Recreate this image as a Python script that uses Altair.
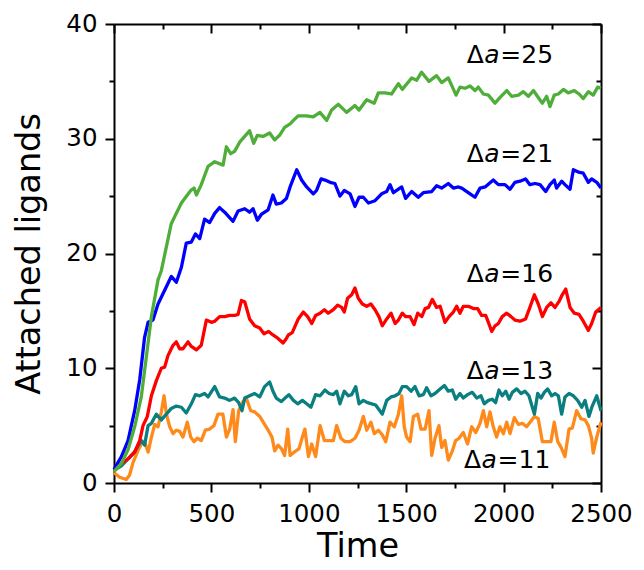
import altair as alt
import pandas as pd

# ---------------- data ----------------
t_25 = [0, 38, 72, 106, 140, 166, 192, 226, 243, 269, 294, 320, 346, 363, 394, 411, 423, 448, 483, 517,
        560, 577, 599, 619, 645, 671, 696, 717, 736, 765, 799, 825, 850, 876, 904, 921, 946, 989, 1023, 1057,
        1092, 1117, 1152, 1194, 1237, 1258, 1297, 1336, 1357, 1391, 1425, 1460, 1480, 1528, 1554, 1579, 1617, 1656, 1682, 1716,
        1756, 1776, 1802, 1828, 1853, 1870, 1896, 1922, 1956, 1982, 2016, 2041, 2076, 2101, 2127, 2153, 2178, 2199, 2221, 2238,
        2260, 2281, 2307, 2332, 2363, 2387, 2409, 2435, 2460, 2483, 2500]
v_25 = [1.0, 1.7, 2.9, 4.9, 7.5, 11.0, 14.5, 17.7, 18.5, 20.6, 22.6, 23.5, 24.4, 24.8, 25.5, 25.7, 25.1, 26.0, 27.6, 28.0,
        27.7, 29.3, 28.7, 28.9, 29.7, 30.2, 30.7, 29.6, 30.3, 30.2, 30.5, 29.9, 30.3, 31.0, 31.3, 31.6, 32.0, 32.0, 31.9, 32.3,
        31.6, 32.5, 33.0, 32.3, 32.9, 32.5, 33.4, 33.1, 34.0, 34.0, 33.9, 34.8, 34.3, 35.3, 35.1, 35.8, 35.0, 35.5, 34.9, 35.3,
        33.8, 34.5, 34.4, 34.6, 34.2, 34.5, 33.9, 33.8, 33.1, 33.6, 34.2, 33.7, 33.8, 34.1, 33.7, 34.2, 33.6, 33.1, 33.7, 32.8,
        33.8, 33.9, 34.3, 34.0, 34.2, 33.9, 33.5, 34.1, 33.8, 34.5, 34.4]

t_21 = [0, 38, 72, 106, 132, 157, 175, 200, 226, 260, 294, 320, 346, 371, 397, 418, 440, 465, 491, 517,
        542, 568, 611, 637, 671, 696, 714, 736, 756, 791, 816, 833, 859, 885, 904, 938, 963, 989, 1023, 1040,
        1063, 1083, 1109, 1134, 1160, 1182, 1212, 1237, 1258, 1280, 1306, 1340, 1374, 1400, 1417, 1434, 1477, 1497, 1528, 1562,
        1588, 1631, 1656, 1682, 1716, 1742, 1768, 1785, 1828, 1853, 1879, 1905, 1947, 1973, 2007, 2033, 2058, 2084, 2113, 2135,
        2161, 2187, 2216, 2238, 2260, 2272, 2298, 2315, 2341, 2358, 2384, 2409, 2435, 2452, 2478, 2500]
v_21 = [1.2, 2.3, 3.7, 6.3, 9.0, 12.7, 14.0, 14.2, 15.6, 16.8, 18.0, 17.5, 18.8, 20.9, 21.0, 21.7, 21.3, 23.0, 22.7, 23.5,
        24.0, 23.6, 22.8, 23.7, 23.9, 23.6, 23.9, 22.9, 23.4, 23.8, 25.1, 24.3, 24.4, 24.8, 25.8, 27.3, 26.4, 25.8, 25.2, 25.5,
        26.5, 26.4, 26.2, 26.1, 25.0, 25.5, 25.2, 24.1, 24.9, 24.9, 24.4, 24.6, 25.2, 25.4, 26.0, 25.3, 25.8, 24.8, 25.4, 24.9,
        25.3, 25.4, 25.9, 25.7, 26.1, 25.7, 25.8, 25.7, 25.2, 24.9, 25.7, 25.8, 26.4, 26.0, 26.0, 25.6, 26.2, 26.3, 26.5, 26.0,
        26.1, 26.0, 25.4, 26.0, 26.4, 25.7, 26.3, 26.0, 25.6, 27.3, 27.1, 27.0, 26.2, 26.5, 26.2, 25.7]

t_16 = [0, 38, 72, 106, 132, 149, 171, 192, 217, 243, 260, 277, 303, 320, 337, 354, 380, 397, 423, 448,
        474, 500, 517, 542, 568, 594, 619, 637, 654, 671, 696, 722, 748, 770, 794, 816, 842, 868, 885, 895,
        915, 946, 972, 994, 1015, 1035, 1058, 1080, 1100, 1126, 1148, 1169, 1182, 1199, 1220, 1237, 1254, 1275, 1297, 1319,
        1340, 1360, 1377, 1400, 1422, 1443, 1460, 1480, 1497, 1520, 1540, 1559, 1580, 1597, 1614, 1634, 1656, 1674, 1699, 1720,
        1742, 1759, 1776, 1793, 1819, 1845, 1867, 1887, 1908, 1922, 1939, 1956, 1973, 1993, 2016, 2038, 2058, 2084, 2113, 2135,
        2158, 2178, 2199, 2221, 2243, 2264, 2284, 2301, 2319, 2341, 2363, 2387, 2409, 2435, 2452, 2473, 2500]
v_16 = [1.1, 1.7, 2.1, 2.7, 3.7, 5.0, 5.8, 7.6, 8.9, 10.0, 10.1, 11.1, 12.0, 12.3, 11.7, 11.7, 12.3, 11.9, 11.6, 12.0,
        14.2, 14.0, 14.1, 14.5, 14.5, 14.6, 14.6, 14.7, 15.9, 15.8, 14.3, 13.7, 13.5, 13.0, 13.2, 12.9, 12.6, 12.2, 12.6, 12.9,
        13.1, 14.3, 14.9, 14.5, 13.9, 14.6, 14.8, 15.1, 14.8, 15.1, 15.5, 15.3, 14.9, 16.1, 16.4, 17.0, 16.1, 15.6, 15.4, 15.6,
        15.1, 14.5, 13.7, 14.3, 14.8, 13.9, 14.2, 14.8, 14.5, 14.5, 13.8, 14.8, 14.5, 15.2, 15.3, 16.0, 15.3, 15.4, 14.0, 14.5,
        14.9, 15.4, 14.8, 15.4, 15.4, 15.2, 15.2, 14.6, 14.6, 14.0, 13.2, 13.7, 13.9, 14.5, 14.8, 14.5, 14.2, 14.1, 14.3, 15.3,
        16.4, 15.6, 14.5, 15.3, 15.7, 15.3, 15.8, 16.4, 16.9, 15.3, 14.8, 14.7, 14.1, 13.3, 13.9, 14.9, 15.3]

t_13 = [0, 38, 72, 106, 140, 157, 175, 192, 217, 243, 269, 294, 320, 346, 371, 397, 418, 440, 465, 483,
        517, 542, 568, 594, 619, 640, 657, 671, 696, 722, 748, 773, 799, 816, 833, 859, 878, 898, 921, 943,
        967, 989, 1011, 1035, 1058, 1083, 1104, 1126, 1143, 1160, 1182, 1203, 1220, 1241, 1258, 1280, 1302, 1323, 1343, 1360,
        1377, 1400, 1422, 1443, 1463, 1480, 1502, 1525, 1545, 1566, 1588, 1605, 1627, 1648, 1668, 1696, 1716, 1737, 1754, 1776,
        1793, 1815, 1839, 1862, 1884, 1901, 1922, 1942, 1959, 1976, 1993, 2011, 2028, 2045, 2067, 2089, 2110, 2130, 2158, 2175,
        2192, 2209, 2226, 2247, 2264, 2281, 2298, 2315, 2336, 2358, 2380, 2401, 2418, 2438, 2455, 2478, 2500]
v_13 = [1.1, 1.5, 2.1, 2.7, 3.7, 3.3, 5.0, 5.2, 6.0, 5.5, 6.0, 6.5, 6.7, 6.6, 6.1, 6.9, 7.7, 7.6, 7.8, 7.5,
        8.4, 7.5, 7.4, 7.2, 7.4, 7.0, 6.3, 7.4, 7.6, 7.8, 7.5, 8.4, 8.8, 8.0, 7.4, 7.1, 7.4, 7.7, 7.2, 6.9,
        7.2, 6.9, 6.6, 7.7, 7.6, 8.1, 7.8, 7.7, 8.0, 6.9, 8.0, 7.6, 7.7, 8.4, 6.9, 7.2, 7.0, 6.9, 6.8, 6.4,
        6.0, 7.2, 7.5, 7.6, 7.8, 8.4, 8.4, 8.0, 8.4, 7.6, 7.7, 8.3, 7.6, 7.8, 8.1, 8.5, 8.0, 8.1, 7.3, 7.8,
        7.4, 7.7, 7.9, 7.4, 7.6, 6.9, 7.2, 7.3, 7.0, 8.1, 7.6, 8.0, 7.3, 7.9, 8.2, 7.8, 8.0, 7.6, 6.0, 7.8,
        7.4, 7.9, 8.2, 7.6, 7.8, 7.6, 6.0, 7.5, 7.8, 7.6, 7.2, 6.6, 7.2, 5.8, 6.7, 7.6, 6.3]

t_11 = [0, 29, 63, 80, 98, 123, 140, 157, 175, 192, 209, 226, 243, 257, 269, 286, 303, 320, 337, 354,
        376, 394, 411, 428, 448, 469, 491, 513, 534, 559, 577, 594, 611, 623, 640, 662, 679, 702, 722, 748,
        770, 791, 811, 825, 842, 859, 876, 892, 904, 926, 950, 967, 980, 998, 1015, 1035, 1058, 1080, 1104, 1126,
        1143, 1165, 1186, 1212, 1237, 1258, 1280, 1297, 1319, 1336, 1357, 1377, 1395, 1417, 1439, 1460, 1477, 1490, 1502, 1520,
        1537, 1559, 1576, 1597, 1617, 1631, 1648, 1668, 1682, 1699, 1716, 1737, 1754, 1771, 1793, 1815, 1836, 1857, 1879, 1896,
        1913, 1930, 1947, 1964, 1981, 1999, 2016, 2033, 2055, 2076, 2096, 2118, 2141, 2158, 2178, 2199, 2221, 2243, 2260, 2278,
        2295, 2315, 2336, 2353, 2375, 2397, 2418, 2435, 2452, 2460, 2478, 2500]
v_11 = [0.9, 0.5, 0.3, 0.7, 1.8, 2.8, 3.4, 3.6, 2.7, 4.0, 5.1, 4.9, 6.2, 7.6, 6.0, 4.9, 4.3, 4.6, 4.5, 4.0,
        5.3, 4.0, 3.6, 3.9, 3.7, 4.6, 4.7, 5.0, 6.0, 6.0, 4.0, 4.7, 6.4, 3.6, 6.3, 7.1, 7.4, 6.3, 6.2, 5.8,
        5.2, 4.6, 4.0, 2.8, 3.3, 3.0, 2.4, 4.7, 2.4, 2.7, 3.0, 4.0, 4.7, 2.3, 3.4, 2.3, 5.0, 3.7, 3.7, 3.7,
        5.0, 3.9, 3.6, 3.6, 3.9, 4.6, 5.8, 4.6, 5.3, 4.3, 4.6, 4.2, 3.6, 5.3, 4.9, 6.0, 7.6, 4.9, 4.0, 3.6,
        5.8, 6.0, 4.7, 4.7, 6.3, 2.4, 3.9, 5.0, 3.1, 3.7, 2.0, 2.8, 3.7, 3.9, 4.4, 3.4, 4.9, 4.4, 5.2, 6.3,
        4.9, 6.2, 4.9, 4.0, 4.9, 4.3, 5.3, 4.3, 5.7, 5.1, 5.2, 4.9, 5.4, 5.8, 5.6, 3.6, 3.6, 3.6, 5.3, 3.6,
        3.1, 2.3, 4.7, 4.8, 6.3, 5.6, 5.5, 5.0, 3.9, 2.6, 4.0, 5.3]

series_names = ["Δa=11", "Δa=13", "Δa=16", "Δa=21", "Δa=25"]
series_colors = ["#ff8a1c", "#0b7f7f", "#ff0000", "#0000ff", "#4fae3a"]
series_t = [t_11, t_13, t_16, t_21, t_25]
series_v = [v_11, v_13, v_16, v_21, v_25]

# annotation labels (anchor in data coordinates)
label_value = ["=25", "=21", "=16", "=13", "=11"]
label_t = [1811, 1811, 1811, 1811, 1797]
label_v = [36.6, 28.0, 17.5, 9.1, 1.3]

x_ticks = list(range(0, 2501, 250))
y_ticks = list(range(0, 41, 5))

# ---------------- build tables ----------------
rows = []
for name, ts, vs in zip(series_names, series_t, series_v):
    for t, v in zip(ts, vs):
        rows.append({"series": name, "t": t, "v": v})
df = pd.DataFrame(rows)

lab = pd.DataFrame({"t": label_t, "v": label_v, "d": ["Δ"] * 5, "a": ["a"] * 5, "rest": label_value})

FONT = "DejaVu Sans"
xscale = alt.Scale(domain=[0, 2500], nice=False, zero=False)
yscale = alt.Scale(domain=[0, 40], nice=False, zero=False)

x_bottom = alt.Axis(
    orient="bottom", values=x_ticks, format="d",
    labelExpr="datum.value % 500 === 0 ? datum.label : ''",
    tickSize=alt.ExprRef(expr="datum.value % 500 === 0 ? 9 : 5"),
    labelPadding=10.5, labelFlush=False, labelOverlap=False,
    title="Time", titlePadding=4,
)
y_left = alt.Axis(
    orient="left", values=y_ticks, format="d",
    labelExpr="datum.value % 10 === 0 ? datum.label : ''",
    tickSize=alt.ExprRef(expr="datum.value % 10 === 0 ? 9 : 5"),
    labelPadding=8, labelFlush=False, labelOverlap=False,
    title="Attached ligands", titlePadding=19,
)
x_top = alt.Axis(
    orient="top", values=x_ticks, labels=False, title=None,
    tickSize=alt.ExprRef(expr="datum.value % 500 === 0 ? -9 : -5"),
)
y_right = alt.Axis(
    orient="right", values=y_ticks, labels=False, title=None,
    tickSize=alt.ExprRef(expr="datum.value % 10 === 0 ? -9 : -5"),
)

lines = alt.Chart(df).mark_line(strokeWidth=3.3, strokeJoin="round").encode(
    x=alt.X("t:Q", scale=xscale, axis=x_bottom),
    y=alt.Y("v:Q", scale=yscale, axis=y_left),
    color=alt.Color("series:N", scale=alt.Scale(domain=series_names, range=series_colors), legend=None),
    detail="series:N",
)

txt_delta = alt.Chart(lab).mark_text(
    align="left", baseline="alphabetic", font=FONT, fontSize=25, color="black"
).encode(
    x=alt.X("t:Q", scale=xscale, axis=x_top),
    y=alt.Y("v:Q", scale=yscale, axis=y_right),
    text="d:N",
)
txt_a = alt.Chart(lab).mark_text(
    align="left", baseline="alphabetic", font=FONT, fontSize=25, fontStyle="italic", color="black", dx=17.5
).encode(
    x=alt.X("t:Q", scale=xscale, axis=None),
    y=alt.Y("v:Q", scale=yscale, axis=None),
    text="a:N",
)
txt_rest = alt.Chart(lab).mark_text(
    align="left", baseline="alphabetic", font=FONT, fontSize=25, color="black", dx=33.5
).encode(
    x=alt.X("t:Q", scale=xscale, axis=None),
    y=alt.Y("v:Q", scale=yscale, axis=None),
    text="rest:N",
)

chart = (
    alt.layer(lines, txt_delta, txt_a, txt_rest)
    .resolve_axis(x="independent", y="independent")
    .properties(
        width=487, height=459,
        autosize=alt.AutoSizeParams(type="none"),
        padding={"left": 106, "top": 16, "right": 33, "bottom": 85},
    )
    .configure_view(stroke=None)
    .configure_axis(
        grid=False,
        domainColor="black", domainWidth=2,
        tickColor="black", tickWidth=2,
        labelFont=FONT, labelFontSize=24.5, labelColor="black",
        titleFont=FONT, titleFontSize=33.5, titleFontWeight="normal", titleColor="black",
    )
)

chart.save("out.html", embed_options={"renderer": "svg", "actions": False})
